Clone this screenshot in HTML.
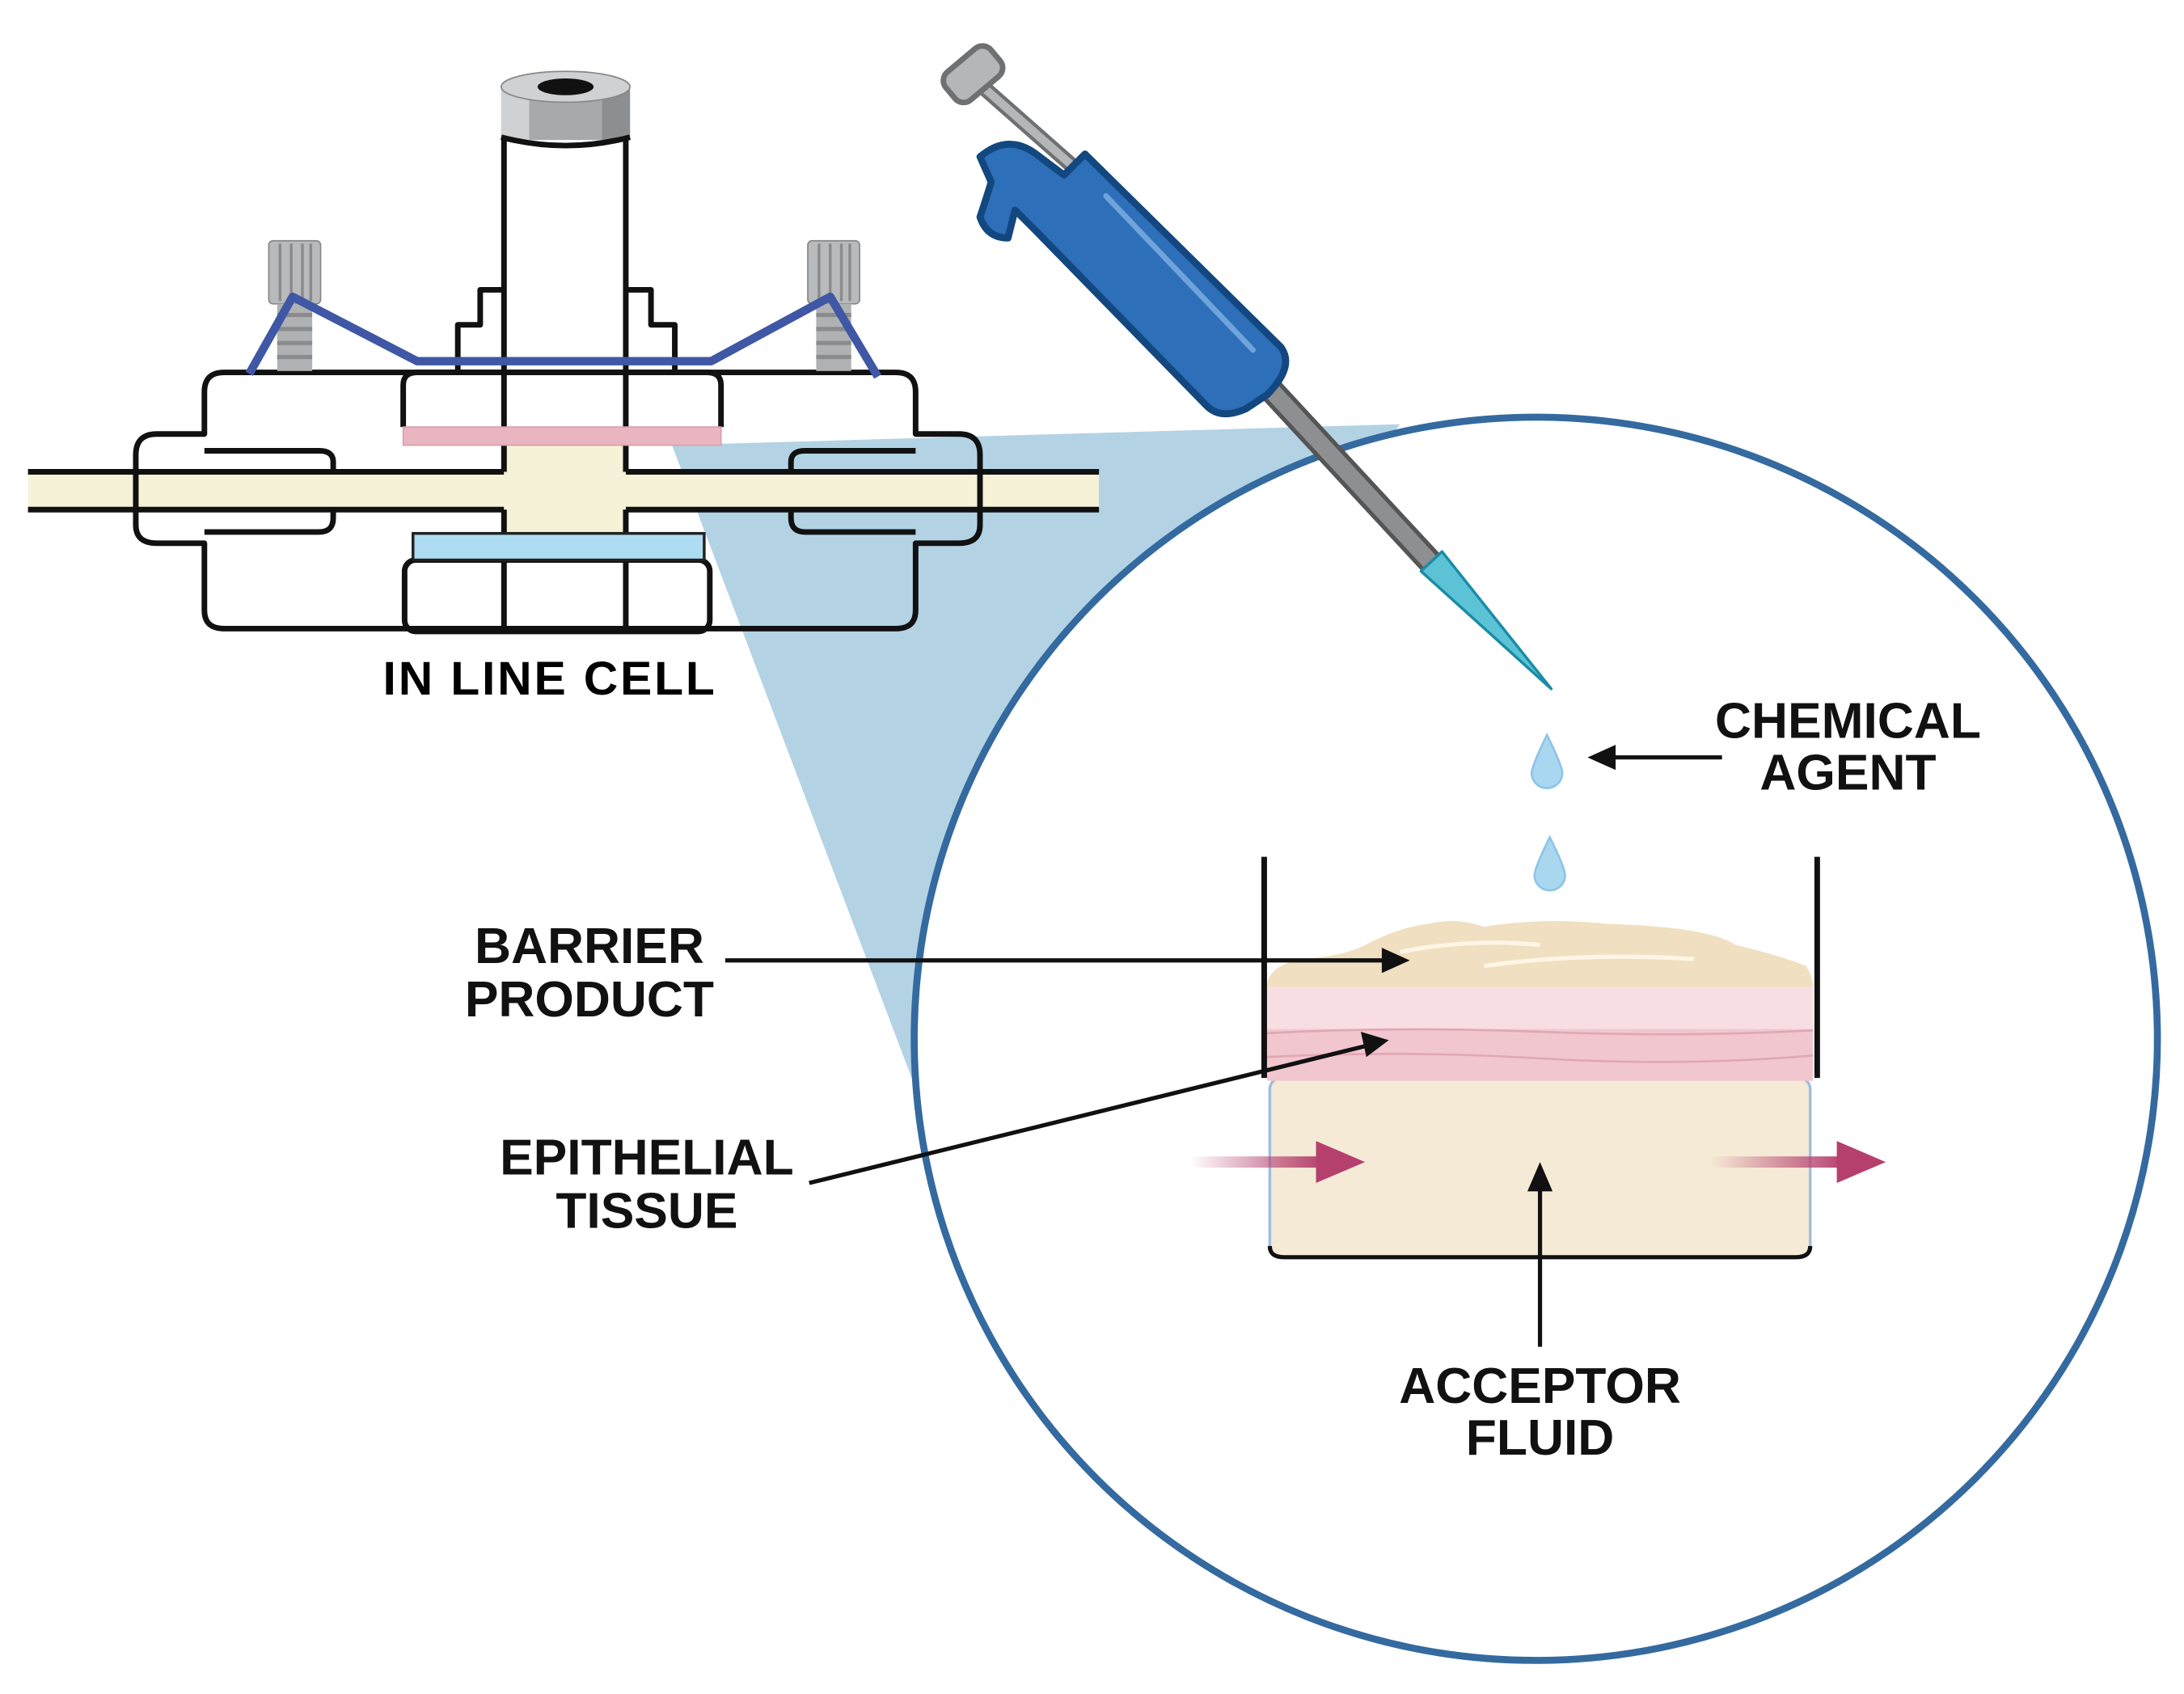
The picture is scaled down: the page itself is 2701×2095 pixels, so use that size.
<!DOCTYPE html>
<html><head><meta charset="utf-8"><style>html,body{margin:0;padding:0;background:#fff}svg{display:block}</style></head>
<body>
<svg width="2701" height="2095" viewBox="0 0 1560 1210" preserveAspectRatio="none" xmlns="http://www.w3.org/2000/svg">
<defs>
<linearGradient id="pg" x1="0" x2="1"><stop offset="0" stop-color="#b5406e" stop-opacity="0"/><stop offset="1" stop-color="#b5406e"/></linearGradient>
</defs>
<rect width="1560" height="1210" fill="#fff"/>
<!-- cone -->
<polygon points="480,318 1000,303 655,780" fill="#b3d3e5"/>
<!-- circle -->
<circle cx="1097" cy="742" r="444" fill="#fff" stroke="#346a9f" stroke-width="5"/>

<!-- inline cell -->
<g stroke="#111" stroke-width="4" fill="none" stroke-linejoin="round">
<rect x="20" y="337" width="765" height="27" fill="#f5f2d8" stroke="none"/>
<line x1="20" y1="337" x2="360" y2="337"/><line x1="447" y1="337" x2="785" y2="337"/>
<line x1="20" y1="364" x2="360" y2="364"/><line x1="447" y1="364" x2="785" y2="364"/>
<rect x="360" y="318" width="87" height="64" fill="#f5f2d8" stroke="none"/>
<path d="M160,266 H640 Q654,266 654,280 V310 H685 Q700,310 700,325 V375 Q700,388 685,388 H654 V436 Q654,449 640,449 H160 Q146,449 146,436 V388 H112 Q97,388 97,375 V325 Q97,310 112,310 H146 V280 Q146,266 160,266 Z"/>
<path d="M146,322 H228 Q238,322 238,330 V337 M238,364 V370 Q238,380 228,380 H146"/>
<path d="M654,322 H575 Q565,322 565,330 V337 M565,364 V370 Q565,380 575,380 H654"/>
<path d="M288,305 V275 Q288,266 298,266 H505 Q515,266 515,275 V305"/>
<line x1="360" y1="100" x2="360" y2="337"/><line x1="447" y1="100" x2="447" y2="337"/>
<line x1="360" y1="364" x2="360" y2="451"/><line x1="447" y1="364" x2="447" y2="451"/>
<path d="M360,207 H343 V232 H327 V264"/><path d="M447,207 H465 V232 H482 V264"/>
<rect x="289" y="400" width="218" height="51" rx="8"/>
</g>
<rect x="288" y="305" width="227" height="13" fill="#e8b5c0" stroke="#d9a0ac" stroke-width="1"/>
<rect x="295" y="381" width="208" height="19" fill="#aedcf2" stroke="#222" stroke-width="2"/>
<!-- cap -->
<rect x="358" y="62" width="92" height="38" fill="#a8a9ab"/>
<rect x="358" y="62" width="20" height="38" fill="#d0d1d3"/>
<rect x="430" y="62" width="20" height="38" fill="#8d8e90"/>
<ellipse cx="404" cy="62" rx="46" ry="11" fill="#d0d1d3" stroke="#888" stroke-width="1"/>
<ellipse cx="404" cy="62" rx="20" ry="6" fill="#111"/>
<path d="M358,98 Q404,110 450,98" stroke="#111" stroke-width="4" fill="none"/>
<!-- screws -->
<g>
<rect x="192" y="172" width="37" height="45" rx="3" fill="#b9babc" stroke="#888" stroke-width="1"/>
<path d="M200,174V215M208,174V215M216,174V215M222,174V215" stroke="#8a8b8d" stroke-width="2"/>
<rect x="198" y="217" width="25" height="48" fill="#b0b1b3"/>
<path d="M198,225h25M198,235h25M198,245h25M198,255h25" stroke="#8a8b8d" stroke-width="3"/>
<rect x="577" y="172" width="37" height="45" rx="3" fill="#b9babc" stroke="#888" stroke-width="1"/>
<path d="M585,174V215M593,174V215M601,174V215M607,174V215" stroke="#8a8b8d" stroke-width="2"/>
<rect x="583" y="217" width="25" height="48" fill="#b0b1b3"/>
<path d="M583,225h25M583,235h25M583,245h25M583,255h25" stroke="#8a8b8d" stroke-width="3"/>
</g>
<polyline points="178,267 209,212 298,258 508,258 593,212 627,269" fill="none" stroke="#3f57a5" stroke-width="6" stroke-linejoin="round"/>
<text x="392" y="496" font-family="Liberation Sans, sans-serif" font-weight="bold" font-size="34" text-anchor="middle" textLength="237">IN LINE CELL</text>

<!-- pipette -->
<line x1="694" y1="55" x2="770" y2="122" stroke="#6f7072" stroke-width="11" stroke-linecap="round"/>
<line x1="694" y1="55" x2="770" y2="122" stroke="#b5b6b8" stroke-width="6" stroke-linecap="round"/>
<rect x="674" y="40" width="42" height="26" rx="8" transform="rotate(-40 695 53)" fill="#b5b6b8" stroke="#6f7072" stroke-width="4"/>
<line x1="900" y1="270" x2="1025" y2="405" stroke="#555" stroke-width="18" stroke-linecap="round"/>
<line x1="900" y1="270" x2="1025" y2="405" stroke="#8e8f91" stroke-width="12"/>
<polygon points="1015,408 1030,394 1108,492" fill="#5cc3d6" stroke="#1a8ca6" stroke-width="2" stroke-linejoin="round"/>
<path d="M700,112 Q720,95 740,110 L760,125 L775,110 L915,248 Q925,262 905,282 L890,292 Q872,300 862,290 L740,165 L725,150 L720,170 Q705,170 700,155 Q705,140 708,130 Z" fill="#2d6fb8" stroke="#13477f" stroke-width="5" stroke-linejoin="round"/>
<line x1="790" y1="140" x2="895" y2="250" stroke="#6fa3da" stroke-width="4" stroke-linecap="round"/>
<!-- drops -->
<path d="M1105,525 Q1095,545 1094,552 A11,11 0 0 0 1116,552 Q1115,545 1105,525 Z" fill="#a9d7f0" stroke="#8ec4e6" stroke-width="1.5"/>
<path d="M1107,598 Q1097,618 1096,625 A11,11 0 0 0 1118,625 Q1117,618 1107,598 Z" fill="#a9d7f0" stroke="#8ec4e6" stroke-width="1.5"/>

<!-- beaker contents -->
<rect x="907" y="770" width="386" height="128" rx="8" fill="#f5ead6" stroke="#9fbde0" stroke-width="2"/>
<path d="M907,890 Q907,898 917,898 H1283 Q1293,898 1293,890" stroke="#111" stroke-width="3" fill="none"/>
<rect x="905" y="705" width="390" height="30" fill="#f8dde2"/>
<rect x="905" y="735" width="390" height="37" fill="#f1c6cf"/>
<path d="M905,738 Q1000,733 1100,737 T1295,736 M905,755 Q1000,750 1100,756 T1295,754" stroke="#e0a7b4" stroke-width="1.5" fill="none"/>
<path d="M905,705 Q905,690 930,685 Q960,683 975,675 Q1000,662 1020,660 Q1040,655 1060,662 Q1100,655 1150,660 Q1220,662 1240,675 Q1270,682 1290,690 Q1295,698 1295,705 Z" fill="#f0dfc0"/>
<path d="M1000,680 Q1050,670 1100,675 M1060,690 Q1130,680 1210,685" stroke="#fff6e6" stroke-width="3" fill="none"/>
<path d="M903,612 V770 M1298,612 V770" stroke="#111" stroke-width="4"/>

<!-- pink arrows -->
<rect x="850" y="826" width="95" height="8" fill="url(#pg)"/>
<polygon points="940,815 975,830 940,845" fill="#b5406e"/>
<rect x="1222" y="826" width="95" height="8" fill="url(#pg)"/>
<polygon points="1312,815 1347,830 1312,845" fill="#b5406e"/>

<!-- label arrows -->
<g stroke="#111" stroke-width="3" fill="#111">
<line x1="1230" y1="541" x2="1150" y2="541"/><polygon points="1134,541 1154,532 1154,550" stroke="none"/>
<line x1="518" y1="686" x2="990" y2="686"/><polygon points="1007,686 987,677 987,695" stroke="none"/>
<line x1="578" y1="845" x2="976" y2="747"/><polygon points="992,743 972,737 976,755" stroke="none"/>
<line x1="1100" y1="962" x2="1100" y2="848"/><polygon points="1100,830 1091,851 1109,851" stroke="none"/>
</g>

<g font-family="Liberation Sans, sans-serif" font-weight="bold" font-size="36" text-anchor="middle" fill="#111">
<text x="1320" y="527">CHEMICAL</text><text x="1320" y="564">AGENT</text>
<text x="421" y="688">BARRIER</text><text x="421" y="726">PRODUCT</text>
<text x="462" y="839">EPITHELIAL</text><text x="462" y="877">TISSUE</text>
<text x="1100" y="1002">ACCEPTOR</text><text x="1100" y="1039">FLUID</text>
</g>
</svg>
</body></html>
